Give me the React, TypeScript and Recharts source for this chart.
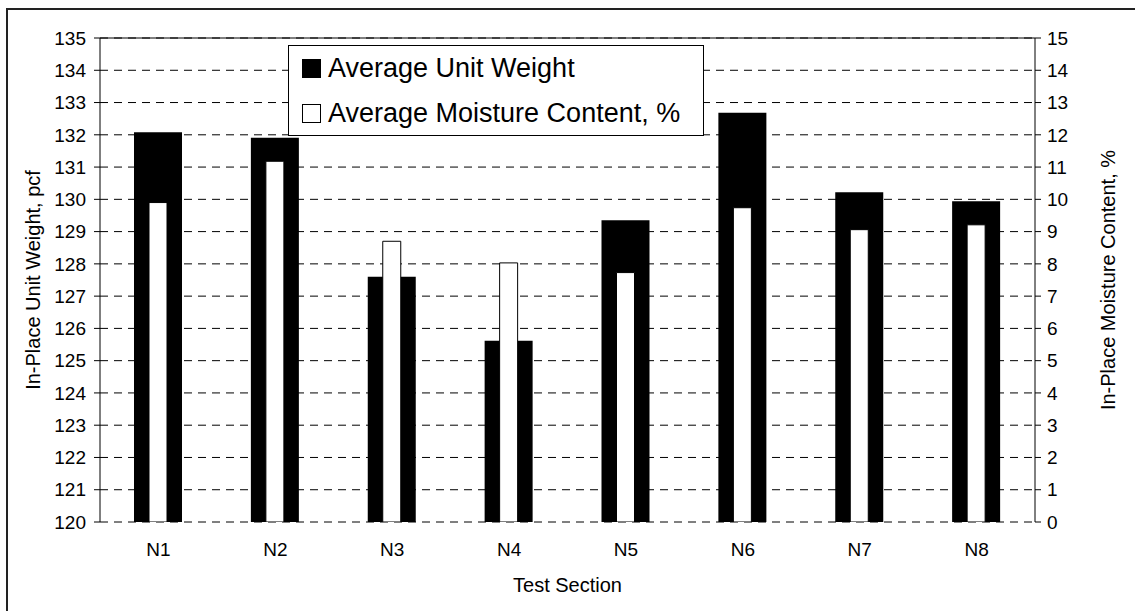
import React from 'react';
import { ComposedChart, Bar, XAxis, YAxis, CartesianGrid, Legend, ReferenceLine } from 'recharts';

const sections = ['N1', 'N2', 'N3', 'N4', 'N5', 'N6', 'N7', 'N8'];
const unitWeight = [132.08, 131.91, 127.6, 125.62, 129.35, 132.68, 130.22, 129.94];
const moisture = [9.9, 11.18, 8.7, 8.03, 7.73, 9.74, 9.06, 9.21];

const weightTicks = [120, 121, 122, 123, 124, 125, 126, 127, 128, 129, 130, 131, 132, 133, 134, 135];
const moistureTicks = [0, 1, 2, 3, 4, 5, 6, 7, 8, 9, 10, 11, 12, 13, 14, 15];
const sectionEdges = [0, 1, 2, 3, 4, 5, 6, 7, 8];

const series = [
  { name: 'Average Unit Weight', fill: '#000' },
  { name: 'Average Moisture Content, %', fill: '#fff' },
];

const FONT = '"Liberation Sans", Arial, Helvetica, sans-serif';

const data = sections.map((s, i) => ({ section: s, weight: unitWeight[i], moisture: moisture[i] }));

// vertical axis title, centred on the plot height
function SideTitle(props: any) {
  const { viewBox, value, side } = props;
  const x = side === 'left' ? viewBox.x + 5 : viewBox.x + viewBox.width - 5;
  const y = viewBox.y + viewBox.height / 2;
  return (
    <text x={x} y={y} transform={`rotate(-90 ${x} ${y})`} textAnchor="middle" dominantBaseline="central"
      fontFamily={FONT} fontSize={20} fill="#000">
      {value}
    </text>
  );
}

function LegendBox() {
  return (
    <div style={{ width: 416, height: 91, boxSizing: 'border-box', border: '1px solid #000', background: '#fff', fontFamily: FONT }}>
      {series.map(s => (
        <div key={s.name} style={{ height: 45, display: 'flex', alignItems: 'center', paddingLeft: 13 }}>
          <span style={{ width: 19, height: 19, boxSizing: 'border-box', background: s.fill, border: '1px solid #000', marginRight: 7 }} />
          <span style={{ fontSize: 27, color: '#000', lineHeight: 1 }}>{s.name}</span>
        </div>
      ))}
    </div>
  );
}

const tickStyle = { fontSize: 19, fill: '#000', fontFamily: FONT };

export default function App() {
  return (
    <div style={{ position: 'absolute', left: 0, top: 0, width: 1135, height: 611, background: '#fff' }}>
      <div style={{ position: 'absolute', left: 6, top: 8, width: 1200, height: 700, borderLeft: '2px solid #222', borderTop: '2px solid #222' }} />
      <ComposedChart width={1135} height={611} data={data} margin={{ top: 38, right: 22, bottom: 19, left: 28 }}>
        <CartesianGrid xAxisId="a" yAxisId="left" vertical={false} stroke="#000" strokeDasharray="8 6" />
        {/* boundary tick marks between sections */}
        <XAxis xAxisId="tk" type="number" domain={[0, 8]} ticks={sectionEdges} allowDataOverflow
          height={6} tickSize={6} stroke="#000" tick={() => <g />} />
        <XAxis xAxisId="a" dataKey="section" height={64} axisLine={false} tickLine={false} tickSize={0} tickMargin={21}
          tick={tickStyle} label={{ value: 'Test Section', position: 'insideBottom', offset: -6, fontSize: 20, fill: '#000', fontFamily: FONT }} />
        <XAxis xAxisId="b" dataKey="section" hide />
        <YAxis yAxisId="left" domain={[120, 135]} ticks={weightTicks} allowDataOverflow width={72}
          tickSize={6} tickMargin={8} stroke="#000" tick={tickStyle} interval={0}
          label={{ value: 'In-Place Unit Weight, pcf', content: (p: any) => <SideTitle {...p} side="left" /> }} />
        <YAxis yAxisId="right" orientation="right" domain={[0, 15]} ticks={moistureTicks} allowDataOverflow width={78}
          tickSize={6} tickMargin={6} stroke="#000" tick={tickStyle} interval={0}
          label={{ value: 'In-Place Moisture Content, %', content: (p: any) => <SideTitle {...p} side="right" /> }} />
        <ReferenceLine xAxisId="a" yAxisId="left" y={135} stroke="#000" />
        <Legend layout="horizontal" verticalAlign="middle" align="center" content={() => <LegendBox />}
          wrapperStyle={{ left: 288, top: 45, width: 416, height: 91 }} />
        <Bar xAxisId="a" yAxisId="left" dataKey="weight" name={series[0].name} fill="#000" barSize={48} isAnimationActive={false} />
        <Bar xAxisId="b" yAxisId="right" dataKey="moisture" name={series[1].name} fill="#fff" stroke="#000" strokeWidth={1}
          barSize={18} isAnimationActive={false} />
      </ComposedChart>
    </div>
  );
}
